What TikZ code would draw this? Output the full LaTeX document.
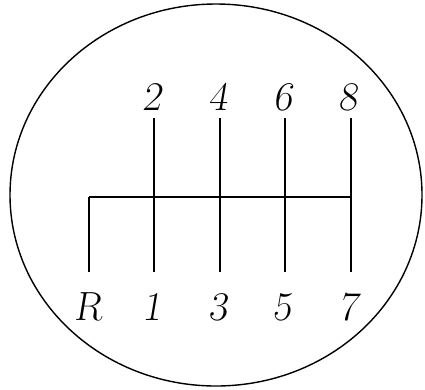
\documentclass[tikz,border=0pt]{standalone}
\usetikzlibrary{positioning}

\begin{document}
\begin{tikzpicture}[
  x=0.025cm,
  y=-0.025cm,
  gear/.style={
    anchor=base,
    inner sep=0pt,
    font=\fontsize{29}{32}\selectfont\slshape
  },
  rail/.style={line width=1.3pt},
  knob/.style={line width=1pt}
]
  \useasboundingbox (0,0) rectangle (425,389);
  \draw[knob] (216,195) ellipse [x radius=206, y radius=191];

  % ends of the gate
  \coordinate (top2) at (154,118);
  \coordinate (top4) at (220,118);
  \coordinate (top6) at (285,118);
  \coordinate (top8) at (351,118);
  \coordinate (botR) at (89,272);
  \coordinate (bot1) at (154,272);
  \coordinate (bot3) at (220,272);
  \coordinate (bot5) at (285,272);
  \coordinate (bot7) at (351,272);
  \coordinate (midR) at (89,197);
  \coordinate (mid7) at (351,197);

  \draw[rail] (midR) -- (mid7);
  \draw[rail] (midR) -- (botR);
  \draw[rail] (top2) -- (bot1);
  \draw[rail] (top4) -- (bot3);
  \draw[rail] (top6) -- (bot5);
  \draw[rail] (top8) -- (bot7);

  \node[gear] (g2) at (152,110) {2};
  \node[gear] (g4) at (218,110) {4};
  \node[gear] (g6) at (283,110) {6};
  \node[gear] (g8) at (348,110) {8};
  \node[gear] (gR) at (88,320) {R};
  \node[gear] (g1) at (152,320) {1};
  \node[gear] (g3) at (218,320) {3};
  \node[gear] (g5) at (282,320) {5};
  \node[gear] (g7) at (348,320) {7};
\end{tikzpicture}
\end{document}
